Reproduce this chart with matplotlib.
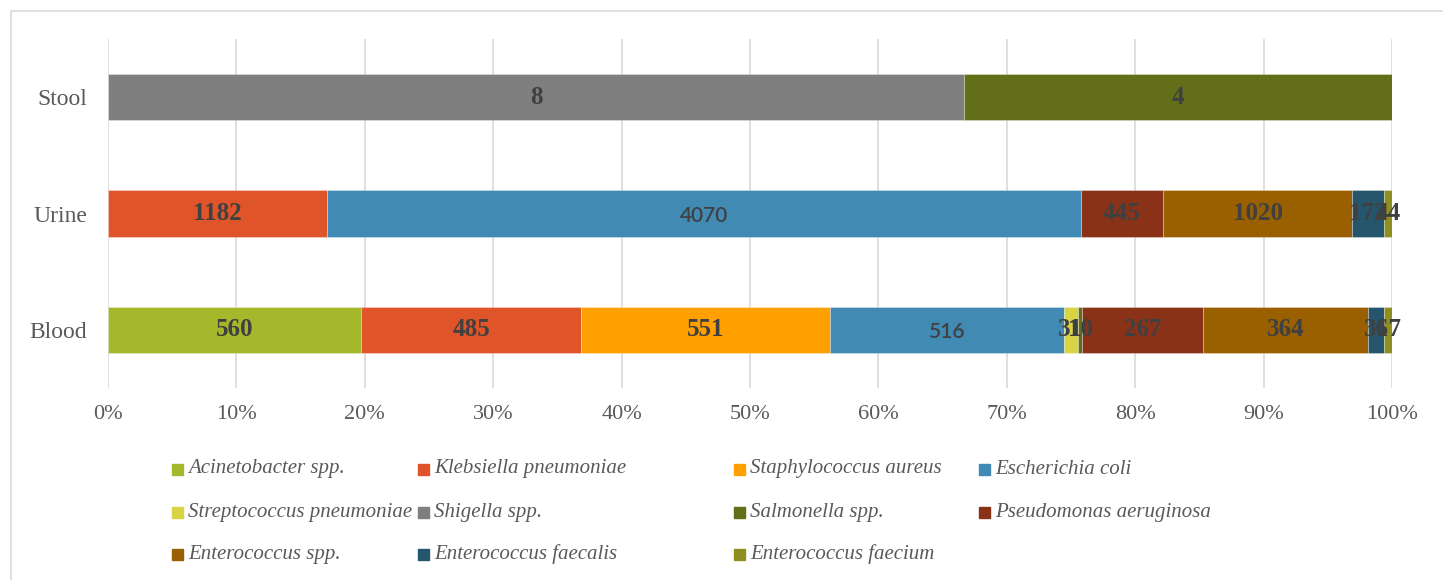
import matplotlib
matplotlib.use("Agg")
import matplotlib.pyplot as plt
import numpy as np
from matplotlib.patches import Rectangle

# %% data
categories = ["Blood", "Urine", "Stool"]
species = ["Acinetobacter spp.", "Klebsiella pneumoniae", "Staphylococcus aureus",
           "Escherichia coli", "Streptococcus pneumoniae", "Shigella spp.",
           "Salmonella spp.", "Pseudomonas aeruginosa", "Enterococcus spp.",
           "Enterococcus faecalis", "Enterococcus faecium"]
# counts per category: Blood, Urine, Stool
acinetobacter = [560, 0, 0]
klebsiella = [485, 1182, 0]
staph_aureus = [551, 0, 0]
e_coli = [516, 4070, 0]
strep_pneumoniae = [31, 0, 0]
shigella = [0, 0, 8]
salmonella = [10, 0, 4]
pseudomonas = [267, 445, 0]
enterococcus_spp = [364, 1020, 0]
e_faecalis = [36, 172, 0]
e_faecium = [17, 44, 0]
xticks = np.arange(0, 101, 10)

counts = np.array([acinetobacter, klebsiella, staph_aureus, e_coli, strep_pneumoniae,
                   shigella, salmonella, pseudomonas, enterococcus_spp, e_faecalis,
                   e_faecium], dtype=float)
colors = ["#a5b72a", "#e0542a", "#ffa000", "#418ab3", "#d9d443", "#7f7f7f",
          "#636e18", "#8a3217", "#9a6000", "#25566e", "#8f8e20"]

pct = counts / counts.sum(axis=0) * 100

# %% plot
fig = plt.figure(figsize=(14.43, 5.8), dpi=100)
W, H = 1443, 580
ax = fig.add_axes([108 / W, 1 - 388 / H, 1284 / W, 349 / H])

y = np.arange(len(categories))
left = np.zeros(len(categories))
for i, sp in enumerate(species):
    ax.barh(y, pct[i], left=left, height=0.4, color=colors[i],
            edgecolor=(1, 1, 1, 0.35), linewidth=0.6, zorder=3)
    for j in range(len(categories)):
        if counts[i, j] > 0:
            xc = left[j] + pct[i, j] / 2
            if sp == "Escherichia coli":
                # this label uses a different font in the original
                ax.text(xc, y[j] - 0.02, "%d" % counts[i, j], ha="center", va="center",
                        fontsize=15, family="Lato", fontweight="semibold",
                        color="#404040", zorder=4)
            else:
                ax.text(xc, y[j], "%d" % counts[i, j], ha="center", va="center",
                        fontsize=18, family="Liberation Serif", fontweight="bold",
                        color="#404040", zorder=4)
    left += pct[i]

ax.set_xlim(0, 100)
ax.set_ylim(-0.5, 2.5)
ax.set_xticks(xticks)
ax.set_xticklabels(["%d%%" % t for t in xticks], family="Liberation Serif",
                   fontsize=16, color="#595959")
ax.set_yticks(y)
ax.set_yticklabels(categories, family="Liberation Serif", fontsize=17, color="#595959")
ax.tick_params(axis="x", length=0, pad=12)
ax.tick_params(axis="y", length=0, pad=15)
for s in ax.spines.values():
    s.set_visible(False)
ax.grid(axis="x", color="#d9d9d9", linewidth=1.2, zorder=0)
ax.set_axisbelow(True)

# legend, drawn entry by entry (row-major, 4 columns like the original)
col_x = [172, 418, 734, 979]
row_y = [469, 512, 554]
for i, sp in enumerate(species):
    cx = col_x[i % 4]
    cy = row_y[i // 4]
    fig.patches.append(Rectangle((cx / W, 1 - (cy + 5.5) / H), 11 / W, 11 / H,
                                 transform=fig.transFigure, color=colors[i]))
    fig.text((cx + 16) / W, 1 - cy / H, sp, ha="left", va="center",
             family="Liberation Serif", style="italic", fontsize=15, color="#595959")

# chart area border
fig.patches.append(Rectangle((11 / W, -0.1), 1.2, 1.1 - 11 / H, transform=fig.transFigure,
                             fill=False, edgecolor="#d9d9d9", linewidth=1.2))

fig.savefig("out.png", dpi=100, facecolor="w")
